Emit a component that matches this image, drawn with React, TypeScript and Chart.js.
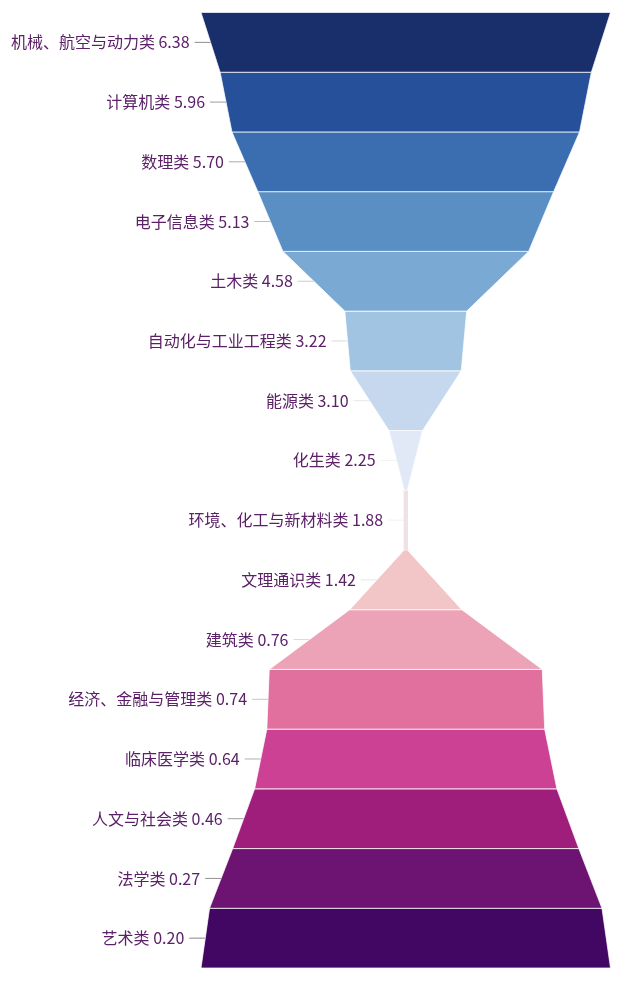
import { useEffect, useRef } from "react"
import { Chart, registerables } from "chart.js"

Chart.register(...registerables)

// Categories top to bottom and their scores
const categories = [
  "机械、航空与动力类",
  "计算机类",
  "数理类",
  "电子信息类",
  "土木类",
  "自动化与工业工程类",
  "能源类",
  "化生类",
  "环境、化工与新材料类",
  "文理通识类",
  "建筑类",
  "经济、金融与管理类",
  "临床医学类",
  "人文与社会类",
  "法学类",
  "艺术类",
]
const scores = [6.38, 5.96, 5.7, 5.13, 4.58, 3.22, 3.1, 2.25, 1.88, 1.42, 0.76, 0.74, 0.64, 0.46, 0.27, 0.2]

// the hourglass pinches at this category
const pinchCategory = "环境、化工与新材料类"

const bandColors = [
  "#192f6b",
  "#26519a",
  "#3b6eb0",
  "#5a8fc3",
  "#7aaad3",
  "#a2c4e3",
  "#c6d8ed",
  "#e1e9f6",
  "#f2e1e4",
  "#f2c5c6",
  "#eda3b7",
  "#e2709f",
  "#cc4193",
  "#a01e7b",
  "#6d1371",
  "#420663",
]

const MIN_HALF = 0.008

function leaderColor(hex: string) {
  const r = parseInt(hex.slice(1, 3), 16)
  const g = parseInt(hex.slice(3, 5), 16)
  const b = parseInt(hex.slice(5, 7), 16)
  const lum = (0.299 * r + 0.587 * g + 0.114 * b) / 255
  const v = Math.round((lum * 0.55 + 0.45) * 255)
  return `rgb(${v},${v},${v})`
}

export default function App() {
  const chartRef = useRef<HTMLCanvasElement>(null)
  const chartInstance = useRef<Chart | null>(null)

  useEffect(() => {
    if (!chartRef.current) return
    if (chartInstance.current) chartInstance.current.destroy()
    const ctx = chartRef.current.getContext("2d")
    if (!ctx) return

    const pinch = categories.indexOf(pinchCategory)
    const pivot = scores[pinch]
    const topSpan = scores[0] - pivot
    const bottomSpan = pivot - scores[scores.length - 1]
    const half = (v: number) => {
      const d = v - pivot
      return d >= 0 ? d / topSpan : -d / bottomSpan
    }

    // half widths at top and bottom edge of each band
    const edges = scores.map((v, i) => {
      let top = 0
      let bottom = 0
      if (i < pinch) {
        top = half(v)
        bottom = half(scores[i + 1])
      } else if (i > pinch) {
        top = half(scores[i - 1])
        bottom = half(v)
      }
      return { top: Math.max(top, MIN_HALF), bottom: Math.max(bottom, MIN_HALF) }
    })

    const datasets = edges.map((e, i) => ({
      label: categories[i],
      data: [
        { x: -e.top, y: i },
        { x: e.top, y: i },
        { x: e.bottom, y: i + 1 },
        { x: -e.bottom, y: i + 1 },
        { x: -e.top, y: i },
      ],
      showLine: true,
      fill: "shape" as const,
      backgroundColor: bandColors[i],
      borderColor: i === pinch ? bandColors[i] : "rgba(255,255,255,0.75)",
      borderWidth: 1,
      pointRadius: 0,
      tension: 0,
    }))

    const labelPlugin = {
      id: "bandLabels",
      afterDatasetsDraw(chart: Chart) {
        const c = chart.ctx
        const xs = chart.scales.x
        const ys = chart.scales.y
        c.save()
        c.font = '16px "Noto Sans CJK SC", "Noto Sans", sans-serif'
        c.textAlign = "right"
        c.textBaseline = "middle"
        edges.forEach((e, i) => {
          const mid = (e.top + e.bottom) / 2
          const xEdge = xs.getPixelForValue(-mid)
          const y = ys.getPixelForValue(i + 0.5)
          c.strokeStyle = leaderColor(bandColors[i])
          c.lineWidth = 1
          c.beginPath()
          c.moveTo(xEdge - 16, y)
          c.lineTo(xEdge, y)
          c.stroke()
          c.fillStyle = "#5b2068"
          c.fillText(`${categories[i]} ${scores[i].toFixed(2)}`, xEdge - 21, y)
        })
        c.restore()
      },
    }

    chartInstance.current = new Chart(ctx, {
      type: "scatter",
      data: { datasets },
      options: {
        animation: false,
        responsive: true,
        maintainAspectRatio: false,
        layout: { padding: { left: 201, right: 29.5, top: 12.5, bottom: 16 } },
        scales: {
          x: { type: "linear", min: -1, max: 1, display: false },
          y: { type: "linear", min: 0, max: scores.length, reverse: true, display: false },
        },
        plugins: {
          legend: { display: false },
          tooltip: { enabled: false },
        },
      },
      plugins: [labelPlugin],
    })

    return () => {
      if (chartInstance.current) {
        chartInstance.current.destroy()
        chartInstance.current = null
      }
    }
  }, [])

  return (
    <div style={{ position: "fixed", left: 0, top: 0, width: 640, height: 984, background: "#fff" }}>
      <canvas ref={chartRef} />
    </div>
  )
}
